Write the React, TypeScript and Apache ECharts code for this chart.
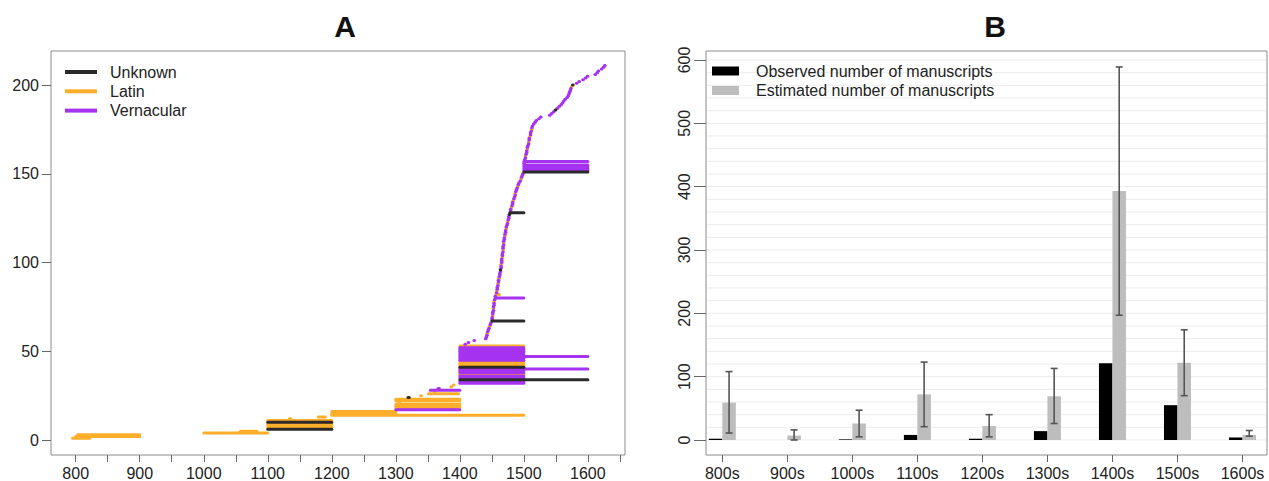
import React, { useEffect, useRef } from 'react';
import * as echarts from 'echarts';

// ---------- Panel A: manuscript date ranges [startYear, endYear, rowIndex] ----------
const unknownSegments = [
  [1100, 1200, 6], [1100, 1200, 10], [1319, 1321, 24], [1400, 1600, 34], [1400, 1500, 41],
  [1450, 1500, 67], [1463, 1463, 96], [1477, 1477, 127], [1478, 1500, 128], [1500, 1600, 151],
  [1549, 1549, 186], [1576, 1576, 200],
];
const latinSegments = [
  [795, 822, 1], [800, 900, 2], [803, 900, 3], [1000, 1100, 4], [1057, 1083, 5],
  [1100, 1200, 7], [1100, 1200, 8], [1100, 1200, 9], [1100, 1200, 11], [1134, 1136, 12],
  [1179, 1190, 13], [1200, 1500, 14], [1200, 1300, 15], [1200, 1300, 16], [1300, 1400, 18],
  [1300, 1400, 19], [1300, 1400, 20], [1305, 1305, 21], [1300, 1400, 22], [1300, 1400, 23],
  [1339, 1339, 25], [1351, 1398, 26], [1360, 1360, 27], [1386, 1386, 30], [1390, 1390, 31],
  [1400, 1500, 37], [1400, 1500, 42], [1400, 1500, 43], [1400, 1500, 44], [1400, 1500, 53],
  [1442, 1442, 60], [1446, 1446, 64], [1451, 1451, 70], [1452, 1452, 74], [1453, 1453, 78],
  [1456, 1462, 82], [1457, 1457, 84], [1459, 1459, 88], [1461, 1461, 91], [1464, 1464, 99],
  [1466, 1466, 103], [1467, 1467, 107], [1468, 1468, 111], [1470, 1470, 115], [1472, 1472, 119],
  [1474, 1474, 123], [1480, 1480, 131], [1483, 1483, 135], [1486, 1486, 139], [1490, 1490, 143],
  [1495, 1495, 147], [1502, 1502, 160], [1505, 1505, 164], [1507, 1507, 168], [1509, 1509, 171],
  [1512, 1512, 175], [1574, 1574, 199],
];
const vernacularSegments = [
  [1300, 1400, 17], [1354, 1400, 28], [1366, 1368, 29],
  [1400, 1500, 32], [1400, 1500, 33], [1400, 1500, 35], [1400, 1500, 36], [1400, 1500, 38],
  [1400, 1500, 39], [1400, 1600, 40], [1400, 1500, 45], [1400, 1500, 46], [1400, 1600, 47],
  [1400, 1500, 48], [1400, 1500, 49], [1400, 1500, 50], [1400, 1500, 51], [1400, 1500, 52],
  [1408, 1408, 54], [1413, 1413, 55], [1422, 1422, 56],
  [1440, 1440, 57], [1441, 1441, 58], [1442, 1442, 59], [1443, 1443, 61], [1444, 1444, 62],
  [1445, 1445, 63], [1447, 1447, 65], [1448, 1448, 66], [1450, 1450, 68], [1450, 1450, 69],
  [1451, 1451, 71], [1451, 1451, 72], [1452, 1452, 73], [1452, 1452, 75], [1453, 1453, 76],
  [1453, 1453, 77], [1454, 1454, 79], [1455, 1500, 80], [1455, 1455, 81], [1457, 1457, 83],
  [1458, 1458, 85], [1458, 1458, 86], [1459, 1459, 87], [1460, 1460, 89], [1460, 1460, 90],
  [1461, 1461, 92], [1462, 1462, 93], [1462, 1462, 94], [1463, 1463, 95], [1464, 1464, 97],
  [1464, 1464, 98], [1465, 1465, 100], [1465, 1465, 101], [1465, 1465, 102], [1466, 1466, 104],
  [1466, 1466, 105], [1467, 1467, 106], [1467, 1467, 108], [1467, 1467, 109], [1468, 1468, 110],
  [1468, 1468, 112], [1469, 1469, 113], [1469, 1469, 114], [1470, 1470, 116], [1471, 1471, 117],
  [1471, 1471, 118], [1472, 1472, 120], [1473, 1473, 121], [1474, 1474, 122], [1475, 1475, 124],
  [1476, 1476, 125], [1476, 1476, 126], [1479, 1479, 129], [1479, 1479, 130], [1481, 1481, 132],
  [1482, 1482, 133], [1482, 1482, 134], [1484, 1484, 136], [1485, 1485, 137], [1486, 1486, 138],
  [1487, 1487, 140], [1488, 1488, 141], [1489, 1489, 142], [1491, 1491, 144], [1492, 1492, 145],
  [1494, 1494, 146], [1496, 1496, 148], [1497, 1497, 149], [1498, 1498, 150],
  [1500, 1600, 152], [1500, 1600, 153], [1500, 1600, 154], [1500, 1600, 155], [1500, 1500, 156],
  [1500, 1600, 157], [1501, 1501, 158], [1502, 1502, 159], [1503, 1503, 161], [1504, 1504, 162],
  [1504, 1504, 163], [1505, 1505, 165], [1506, 1506, 166], [1507, 1507, 167], [1508, 1508, 169],
  [1508, 1508, 170], [1510, 1510, 172], [1510, 1510, 173], [1511, 1511, 174], [1512, 1512, 176],
  [1513, 1513, 177], [1515, 1515, 178], [1517, 1517, 179], [1519, 1519, 180], [1523, 1523, 181],
  [1526, 1526, 182], [1540, 1540, 183], [1543, 1543, 184], [1546, 1546, 185], [1552, 1552, 187],
  [1555, 1555, 188], [1558, 1558, 189], [1560, 1560, 190], [1562, 1562, 191], [1564, 1564, 192],
  [1567, 1567, 193], [1569, 1569, 194], [1570, 1570, 195], [1571, 1571, 196], [1572, 1572, 197],
  [1573, 1573, 198], [1582, 1582, 201], [1586, 1586, 202], [1592, 1592, 203], [1596, 1596, 204],
  [1599, 1599, 205], [1611, 1611, 206], [1614, 1614, 207], [1616, 1616, 208], [1621, 1621, 209],
  [1624, 1624, 210], [1626, 1626, 211],
];
const yearTicks = [800, 850, 900, 950, 1000, 1050, 1100, 1150, 1200, 1250, 1300, 1350, 1400, 1450, 1500, 1550, 1600, 1650];
const yearLabels = [800, 900, 1000, 1100, 1200, 1300, 1400, 1500, 1600];
const countLabelsA = [0, 50, 100, 150, 200];

// ---------- Panel B: observed vs estimated per century ----------
const centuries = ['800s', '900s', '1000s', '1100s', '1200s', '1300s', '1400s', '1500s', '1600s'];
const observed = [2, 0, 1, 8, 2, 14, 121, 55, 4];
const estimated = [59, 7, 26, 72, 22, 69, 393, 122, 8];
const estimatedLow = [11, 0, 5, 21, 5, 26, 197, 70, 6];
const estimatedHigh = [108, 16, 47, 123, 40, 113, 589, 174, 15];
const countLabelsB = [0, 100, 200, 300, 400, 500, 600];
const gridLinesB = [0, 20, 40, 60, 80, 100, 120, 140, 160, 180, 200, 220, 240, 260, 280, 300, 320, 340, 360, 380, 400, 420, 440, 460, 480, 500, 520, 540, 560, 580, 600];

const FONT = '"Liberation Sans", Arial, Helvetica, sans-serif';
const COLORS = { Unknown: '#2a2a2a', Latin: '#FDAE2A', Vernacular: '#A533F0' };

function segmentSeries(name: string, data: number[][]) {
  return {
    type: 'custom',
    name,
    xAxisIndex: 0,
    yAxisIndex: 0,
    itemStyle: { color: (COLORS as any)[name] },
    data,
    encode: { x: [0, 1], y: 2 },
    renderItem: (params: any, api: any) => {
      const p1 = api.coord([api.value(0), api.value(2)]);
      const p2 = api.coord([api.value(1), api.value(2)]);
      let x2 = p2[0];
      if (x2 - p1[0] < 0.6) x2 = p1[0] + 0.6;
      return {
        type: 'line',
        shape: { x1: p1[0], y1: p1[1], x2, y2: p2[1] },
        style: { stroke: api.visual('color'), lineWidth: 3, lineCap: 'round' },
      };
    },
  };
}

export default function App() {
  const ref = useRef<HTMLDivElement>(null);
  useEffect(() => {
    if (!ref.current) return;
    const chart = echarts.init(ref.current, undefined, { renderer: 'svg' });
    const axisLabelStyle = { fontSize: 16, lineHeight: 16, color: '#222', fontFamily: FONT };
    const plain = (v: number) => String(v);
    const hiddenLine = { show: false, onZero: false };
    const option: any = {
      animation: false,
      backgroundColor: '#ffffff',
      title: [
        { text: 'A', left: 340, top: 6, textAlign: 'center', textStyle: { fontSize: 30, fontWeight: 'bold', color: '#111', fontFamily: FONT } },
        { text: 'B', left: 990, top: 6, textAlign: 'center', textStyle: { fontSize: 30, fontWeight: 'bold', color: '#111', fontFamily: FONT } },
      ],
      legend: [
        {
          left: 60, top: 59, orient: 'vertical', itemWidth: 32, itemHeight: 4, itemGap: 3.3,
          data: [{ name: 'Unknown', icon: 'rect' }, { name: 'Latin', icon: 'rect' }, { name: 'Vernacular', icon: 'rect' }],
          textStyle: { fontSize: 16, color: '#222', fontFamily: FONT, padding: [0, 0, 0, 8] },
          selectedMode: false,
        },
        {
          left: 707, top: 58, orient: 'vertical', itemWidth: 27, itemHeight: 9, itemGap: 3.5,
          data: [{ name: 'Observed number of manuscripts', icon: 'rect' }, { name: 'Estimated number of manuscripts', icon: 'rect' }],
          textStyle: { fontSize: 16, color: '#222', fontFamily: FONT, padding: [0, 0, 0, 12] },
          selectedMode: false,
        },
      ],
      grid: [
        { left: 51, top: 51, width: 574, height: 404, show: true, borderColor: '#8c8c8c', borderWidth: 1, backgroundColor: 'transparent', containLabel: false, outerBoundsMode: 'none' },
        { left: 706, top: 51, width: 561, height: 404, show: true, borderColor: '#8c8c8c', borderWidth: 1, backgroundColor: 'transparent', containLabel: false, outerBoundsMode: 'none' },
      ],
      xAxis: [
        {
          gridIndex: 0, type: 'value', min: 761.4, max: 1658,
          axisLine: hiddenLine,
          axisTick: { show: true, length: 7, lineStyle: { color: '#666' }, customValues: yearTicks },
          axisLabel: { ...axisLabelStyle, margin: 10, customValues: yearLabels, formatter: plain },
          splitLine: { show: false },
        },
        {
          gridIndex: 1, type: 'value', min: -0.251, max: 8.377,
          axisLine: hiddenLine,
          axisTick: { show: true, length: 7, lineStyle: { color: '#666' }, customValues: centuries.map((_, i) => i) },
          axisLabel: { ...axisLabelStyle, margin: 10, customValues: centuries.map((_, i) => i), formatter: (v: number) => centuries[Math.round(v)] },
          splitLine: { show: false },
        },
      ],
      yAxis: [
        {
          gridIndex: 0, type: 'value', min: -8.45, max: 219.2,
          axisLine: hiddenLine,
          axisTick: { show: true, length: 9, lineStyle: { color: '#666' }, customValues: countLabelsA },
          axisLabel: { ...axisLabelStyle, margin: 12, customValues: countLabelsA, formatter: plain },
          splitLine: { show: false },
        },
        {
          gridIndex: 1, type: 'value', min: -23.7, max: 614.2,
          axisLine: hiddenLine,
          axisTick: { show: true, length: 12, lineStyle: { color: '#666' }, customValues: countLabelsB },
          axisLabel: { ...axisLabelStyle, margin: 14, rotate: 90, customValues: countLabelsB, formatter: plain },
          splitLine: { show: false },
        },
      ],
      series: [
        segmentSeries('Latin', latinSegments),
        segmentSeries('Vernacular', vernacularSegments),
        segmentSeries('Unknown', unknownSegments),
        {
          type: 'custom', name: 'grid lines', xAxisIndex: 1, yAxisIndex: 1, silent: true, z: 0,
          data: gridLinesB.map((v) => [0, v]),
          renderItem: (params: any, api: any) => {
            const cs = params.coordSys;
            const p = api.coord([0, api.value(1)]);
            return {
              type: 'line',
              shape: { x1: cs.x + 1, y1: p[1], x2: cs.x + cs.width - 1, y2: p[1] },
              style: { stroke: '#ececec', lineWidth: 1 },
            };
          },
        },
        {
          type: 'bar', name: 'Observed number of manuscripts', xAxisIndex: 1, yAxisIndex: 1,
          data: observed.map((v, i) => [i, v]), barWidth: 13.5, barGap: '0%',
          itemStyle: { color: '#000000' },
        },
        {
          type: 'bar', name: 'Estimated number of manuscripts', xAxisIndex: 1, yAxisIndex: 1,
          data: estimated.map((v, i) => [i, v]), barWidth: 13.5, barGap: '0%',
          itemStyle: { color: '#bdbdbd' },
        },
        {
          type: 'custom', name: 'Estimate interval', xAxisIndex: 1, yAxisIndex: 1, z: 5,
          data: estimatedLow.map((lo, i) => [i, lo, estimatedHigh[i]]),
          encode: { x: 0, y: [1, 2] },
          renderItem: (params: any, api: any) => {
            const lo = api.coord([api.value(0), api.value(1)]);
            const hi = api.coord([api.value(0), api.value(2)]);
            const x = lo[0] + 6.75;
            const style = { stroke: '#555', lineWidth: 1.6 };
            return {
              type: 'group',
              children: [
                { type: 'line', shape: { x1: x, y1: lo[1], x2: x, y2: hi[1] }, style },
                { type: 'line', shape: { x1: x - 3.5, y1: lo[1], x2: x + 3.5, y2: lo[1] }, style },
                { type: 'line', shape: { x1: x - 3.5, y1: hi[1], x2: x + 3.5, y2: hi[1] }, style },
              ],
            };
          },
        },
      ],
    };
    chart.setOption(option);
    return () => chart.dispose();
  }, []);
  return <div ref={ref} style={{ position: 'fixed', left: 0, top: 0, width: 1269, height: 481, background: '#fff' }} />;
}
